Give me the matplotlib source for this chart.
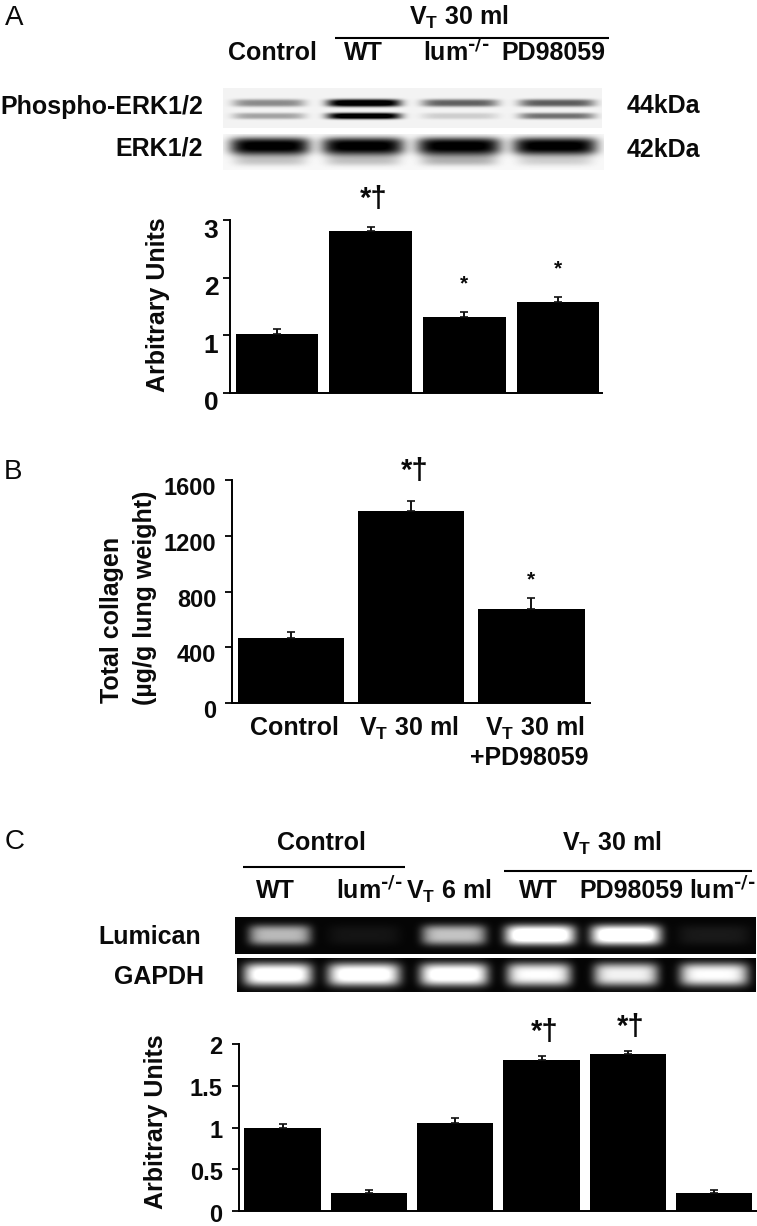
import numpy as np
import matplotlib
matplotlib.use("Agg")
import matplotlib.pyplot as plt
from matplotlib.transforms import ScaledTranslation

W, H = 757, 1226

VT30 = r"V$_{\mathregular{T}}$ 30 ml"
VT6 = r"V$_{\mathregular{T}}$ 6 ml"
LUM = r"lum$^{\text{-/-}}$"

# ---- data ----
a_labels = ["Control", "WT", LUM, "PD98059"]
a_values = [1.02, 2.81, 1.31, 1.57]
a_errors = [0.09, 0.06, 0.09, 0.09]
a_marks = ["", "*†", "*", "*"]
a_ticks = [0, 1, 2, 3]

b_labels = ["Control", VT30, VT30 + "\n+PD98059"]
b_values = [470, 1375, 675]
b_errors = [40, 77, 80]
b_marks = ["", "*†", "*"]
b_ticks = [0, 400, 800, 1200, 1600]

c_labels = ["WT", LUM, VT6, "WT", "PD98059", LUM]
c_values = [1.0, 0.21, 1.05, 1.81, 1.88, 0.21]
c_errors = [0.04, 0.04, 0.06, 0.045, 0.04, 0.04]
c_marks = ["", "", "", "*†", "*†", ""]
c_ticks = [0, 0.5, 1, 1.5, 2]
c_ticklabels = ["0", "0.5", "1", "1.5", "2"]

# band strength per lane
phospho_upper = [0.50, 1.35, 0.70, 0.72]
phospho_lower = [0.38, 1.35, 0.18, 0.62]
erk_main = [1.1, 1.1, 1.1, 1.1]
erk_shadow = [0.28, 0.30, 0.38, 0.22]
lumican_band = [0.72, 0.06, 0.76, 1.2, 1.2, 0.08]
gapdh_band = [1.1, 1.1, 1.1, 1.0, 0.95, 1.0]

plt.rcParams["font.family"] = ["Liberation Sans", "DejaVu Sans"]
plt.rcParams["font.weight"] = "bold"
fig = plt.figure(figsize=(W / 100, H / 100), dpi=100)


def px_axes(x0, y0, x1, y1):
    return fig.add_axes([x0 / W, 1 - y1 / H, (x1 - x0) / W, (y1 - y0) / H])


overlay = fig.add_axes([0, 0, 1, 1], zorder=5)
overlay.set_xlim(0, W)
overlay.set_ylim(H, 0)
overlay.axis("off")
overlay.patch.set_alpha(0)

FS = 18


def txt(x, y, s, ha="center", size=FS, **kw):
    overlay.text(x, y, s, ha=ha, va="center", fontsize=size, color="#0a0a0a", **kw)


def hline(x0, x1, y):
    overlay.plot([x0, x1], [y, y], color="black", lw=1.5, solid_capstyle="butt")


def bars(box, xc0, step, width, values, errors, marks, ylim, ticks, ticklabels,
         mark_offset, tick_size, tick_shift, tick_pad):
    ax = px_axes(*box)
    idx = np.arange(len(values))
    ax.bar(idx, values, width=width / step, color="black", edgecolor="none")
    err_low = np.zeros(len(values))
    ax.errorbar(idx, values, yerr=[err_low, errors], fmt="none", ecolor="#111111",
                elinewidth=1.4, capsize=3, capthick=1.2)
    ax.set_xlim((box[0] - xc0) / step, (box[2] - xc0) / step)
    ax.set_ylim(*ylim)
    ax.set_yticks(ticks)
    ax.set_yticklabels(ticklabels, fontsize=tick_size, color="#0a0a0a")
    ax.set_xticks([])
    ax.tick_params(axis="y", length=5, width=1.3, pad=tick_pad)
    shift = ScaledTranslation(0, -tick_shift / 100, fig.dpi_scale_trans)
    for lab in ax.get_yticklabels():
        lab.set_transform(lab.get_transform() + shift)
    for s in ("top", "right"):
        ax.spines[s].set_visible(False)
    for s in ("left", "bottom"):
        ax.spines[s].set_linewidth(1.4)
    ax.patch.set_alpha(0)
    for i, m in enumerate(marks):
        if m:
            double = len(m) > 1
            ax.annotate(m, (i, values[i] + errors[i]),
                        xytext=(3 if double else 0, mark_offset[1 if double else 0]),
                        textcoords="offset pixels", ha="center", va="center",
                        fontsize=21 if double else 15, color="#0a0a0a")
    return ax


def gel(box, bands, background):
    """bands: (centres_px, half_widths_px, y_px, half_height_px, strengths, delta)."""
    x0, y0, x1, y1 = box
    xs = np.arange(x0, x1) + 0.5
    ys = np.arange(y0, y1) + 0.5
    X, Y = np.meshgrid(xs, ys)
    img = np.full(X.shape, float(background))
    for cs, hw, yc, sy, strengths, delta in bands:
        for c, h, s in zip(cs, hw, strengths):
            prof = np.exp(-((np.abs(X - c) / h) ** 6)) * np.exp(-((np.abs(Y - yc) / sy) ** 3))
            img += delta * s * prof
    img = np.clip(img, 0, 255)
    ax = px_axes(x0, y0, x1, y1)
    ax.imshow(img, cmap="gray", vmin=0, vmax=255, aspect="auto", interpolation="bilinear")
    ax.axis("off")
    return ax


# ---- panel A ----
txt(14, 18, "A", size=20, fontweight="normal")
txt(459, 17, VT30)
hline(335, 609, 38)
for x, s in zip([272, 363, 456, 553], a_labels):
    txt(x, 53, s)
txt(203, 107, "Phospho-ERK1/2", ha="right")
txt(203, 148, "ERK1/2", ha="right")
txt(627, 106, "44kDa", ha="left")
txt(627, 150, "42kDa", ha="left")

gel((223, 88, 602, 128), [
    ([269, 364, 460, 557], [36, 37, 38, 38], 103, 3.8, phospho_upper, -210),
    ([269, 364, 460, 557], [36, 37, 38, 38], 116, 3.2, phospho_lower, -210),
], 243)
gel((223, 134, 604, 170), [
    ([270, 363, 459, 555], [40, 41, 42, 42], 146, 8.5, erk_main, -235),
    ([270, 363, 459, 555], [36, 37, 38, 37], 159, 6.5, erk_shadow, -190),
], 248)

bars((229.5, 220, 601.7, 392.7), 277, 93.7, 82.5, a_values, a_errors, a_marks,
     (0, 3), a_ticks, [str(t) for t in a_ticks], (28, 28), 19, 8, 3)
txt(158, 305, "Arbitrary Units", rotation=90)

# ---- panel B ----
txt(13, 472, "B", size=20, fontweight="normal")
bars((231.7, 480, 590, 703.3), 291, 120.2, 106.5, b_values, b_errors, b_marks,
     (0, 1600), b_ticks, [str(t) for t in b_ticks], (18, 30), 17, 6, 6)
txt(112, 620, "Total collagen", rotation=90)
txt(145, 598, "(µg/g lung weight)", rotation=90)
txt(294, 728, "Control")
txt(409, 728, VT30)
txt(535, 728, VT30)
txt(529, 758, "+PD98059")

# ---- panel C ----
txt(15, 842, "C", size=20, fontweight="normal")
txt(321, 843, "Control")
hline(243, 405, 867)
txt(612, 843, VT30)
hline(504, 752, 871)
for x, s in zip([275, 369, 449, 538, 631, 722], c_labels):
    txt(x, 891, s)
txt(201, 937, "Lumican", ha="right")
txt(204, 977, "GAPDH", ha="right")

gel((235, 917, 756, 954), [
    ([280, 364, 454, 540, 626, 714], [31, 36, 32, 35, 35, 36], 935, 10, lumican_band, 250),
], 5)
gel((237, 958, 756, 992), [
    ([278, 364, 454, 539, 626, 714], [34, 36, 34, 32, 32, 34], 975, 11, gapdh_band, 250),
], 5)

bars((239.2, 1044, 756.5, 1211), 282.6, 86.3, 76.6, c_values, c_errors, c_marks,
     (0, 2), c_ticks, c_ticklabels, (22, 24), 17, 1.5, 7)
txt(156, 1122, "Arbitrary Units", rotation=90)

fig.savefig("out.png", dpi=100)
